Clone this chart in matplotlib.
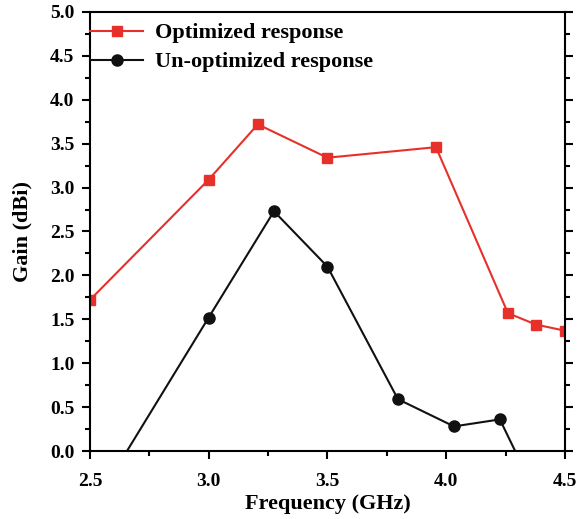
import matplotlib
matplotlib.use("Agg")
import matplotlib.pyplot as plt
from matplotlib.ticker import MultipleLocator, FormatStrFormatter

opt_freq = [2.5, 3.0, 3.207, 3.5, 3.957, 4.26, 4.378, 4.5]
opt_gain = [1.72, 3.09, 3.72, 3.34, 3.46, 1.57, 1.44, 1.37]
unopt_freq = [2.5, 3.0, 3.275, 3.5, 3.797, 4.033, 4.226, 4.38]
unopt_gain = [-0.69, 1.52, 2.73, 2.10, 0.59, 0.28, 0.36, -0.5]

plt.rcParams['font.family'] = ['Liberation Serif', 'DejaVu Serif']
plt.rcParams['font.weight'] = 'bold'

fig = plt.figure(figsize=(5.8, 5.19), dpi=100)
ax = fig.add_axes([0.155, 0.131, 0.819, 0.846])

ax.plot(opt_freq, opt_gain, color='#e8302a', lw=1.5, marker='s', ms=7.5,
        label='Optimized response')
ax.plot(unopt_freq, unopt_gain, color='#111111', lw=1.5, marker='o', ms=8,
        label='Un-optimized response')

ax.set_xlim(2.5, 4.5)
ax.set_ylim(0, 5.0)
ax.xaxis.set_major_locator(MultipleLocator(0.5))
ax.xaxis.set_minor_locator(MultipleLocator(0.25))
ax.yaxis.set_major_locator(MultipleLocator(0.5))
ax.yaxis.set_minor_locator(MultipleLocator(0.25))
ax.xaxis.set_major_formatter(FormatStrFormatter('%.1f'))
ax.yaxis.set_major_formatter(FormatStrFormatter('%.1f'))

ax.tick_params(axis='both', which='both', direction='out', width=1.5, labelsize=14)
ax.tick_params(axis='both', which='major', length=6, pad=5)
ax.tick_params(axis='x', which='major', pad=10)
ax.tick_params(axis='both', which='minor', length=3.5)
ax.tick_params(axis='y', which='both', right=True)
for s in ax.spines.values():
    s.set_linewidth(1.5)

ax.set_xlabel('Frequency (GHz)', fontsize=16, fontweight='bold', labelpad=3)
ax.set_ylabel('Gain (dBi)', fontsize=16, fontweight='bold', labelpad=13)

leg = ax.legend(loc='upper left', bbox_to_anchor=(0.0, 0.975), frameon=False,
                handlelength=2.4, handletextpad=0.55,
                borderaxespad=0.0, borderpad=0.0, labelspacing=0.38,
                prop={'weight': 'bold', 'size': 16})

fig.savefig('out.png', dpi=100)
